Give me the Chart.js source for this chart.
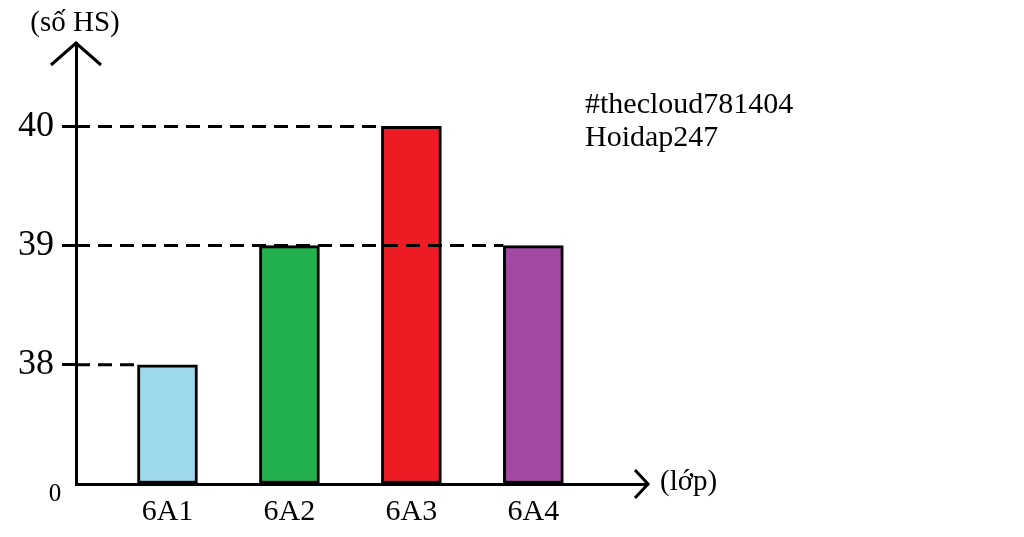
<!DOCTYPE html>
<html>
<head>
<meta charset="utf-8">
<script src="https://cdn.jsdelivr.net/npm/chart.js@4.4.1/dist/chart.umd.min.js"></script>
<style>
  html, body { margin: 0; padding: 0; background: #fff; }
  #wrap { width: 1024px; height: 537px; position: relative; }
</style>
</head>
<body>
<div id="wrap"><canvas id="c"></canvas></div>
<script>
// --- data ---
const CLASSES = ['6A1', '6A2', '6A3', '6A4'];
const STUDENTS = [38, 39, 40, 39];
const BAR_COLORS = ['#9dd9ea', '#22b14c', '#ed1c24', '#a349a4'];
// broken axis: the baseline labelled "0" sits one step below 38
const Y_TICK_VALUES = [37, 38, 39, 40];
const Y_TICK_LABELS = ['0', '38', '39', '40'];
const Y_TITLE = '(số HS)';
const X_TITLE = '(lớp)';
const NOTE_LINES = ['#thecloud781404', 'Hoidap247'];

const SERIF = "'Liberation Serif', 'Times New Roman', serif";
const BASE = Y_TICK_VALUES[0];

// arrows, guide lines, titles
const sketchPlugin = {
    id: 'sketch',
    afterDatasetsDraw(chart) {
        const { ctx, chartArea: a, scales } = chart;
        const y = scales.y;
        const meta = chart.getDatasetMeta(0);
        ctx.save();
        ctx.strokeStyle = '#000';
        ctx.lineWidth = 3;

        // dashed guides from the y axis to the bars
        ctx.setLineDash([14, 8]);
        const seen = {};
        STUDENTS.forEach((v, i) => {
            const bar = meta.data[i];
            const left = bar.x - bar.width / 2;
            if (!seen[v] || left > seen[v]) seen[v] = left;
        });
        Object.keys(seen).forEach(v => {
            const py = y.getPixelForValue(+v);
            ctx.beginPath();
            ctx.moveTo(a.left, py);
            ctx.lineTo(seen[v], py);
            ctx.stroke();
        });
        ctx.setLineDash([]);

        // arrow heads
        ctx.beginPath();
        ctx.moveTo(a.left - 25, a.top + 22);
        ctx.lineTo(a.left, a.top);
        ctx.lineTo(a.left + 25, a.top + 22);
        ctx.stroke();
        ctx.beginPath();
        ctx.moveTo(a.right - 13, a.bottom - 14);
        ctx.lineTo(a.right, a.bottom);
        ctx.lineTo(a.right - 13, a.bottom + 14);
        ctx.stroke();

        // labels
        ctx.fillStyle = '#000';
        ctx.textBaseline = 'middle';
        ctx.font = '29px ' + SERIF;
        ctx.textAlign = 'center';
        ctx.fillText(Y_TITLE, a.left - 1, 23);
        ctx.textAlign = 'left';
        ctx.fillText(X_TITLE, a.right + 12, a.bottom - 2);
        ctx.font = '30px ' + SERIF;
        ctx.fillText(NOTE_LINES[0], 585, 105);
        ctx.fillText(NOTE_LINES[1], 585, 138);

        // the "0" at the origin
        ctx.font = '25px ' + SERIF;
        ctx.textAlign = 'center';
        ctx.fillText(Y_TICK_LABELS[0], a.left - 21, a.bottom + 10);
        ctx.restore();
    }
};

new Chart(document.getElementById('c'), {
    type: 'bar',
    data: {
        datasets: [{
            data: STUDENTS.map((v, i) => ({ x: i, y: v })),
            base: BASE,
            backgroundColor: BAR_COLORS,
            borderColor: '#000',
            borderWidth: 3,
            borderSkipped: false,
            barThickness: 60
        }]
    },
    options: {
        responsive: true,
        maintainAspectRatio: false,
        animation: false,
        events: [],
        layout: { padding: { top: 43, right: 376, left: 0, bottom: 0 } },
        plugins: { legend: { display: false }, tooltip: { enabled: false } },
        scales: {
            x: {
                type: 'linear',
                offset: false,
                min: -0.75,
                max: 3.94,
                afterBuildTicks: s => { s.ticks = CLASSES.map((c, i) => ({ value: i })); },
                afterFit: s => { s.height = 53; },
                grid: { display: false, drawTicks: false },
                border: { display: true, color: '#000', width: 3 },
                ticks: {
                    padding: 10,
                    color: '#000',
                    font: { family: SERIF, size: 30 },
                    callback: v => CLASSES[v]
                }
            },
            y: {
                min: BASE,
                max: 40.7,
                afterBuildTicks: s => { s.ticks = Y_TICK_VALUES.map(v => ({ value: v })); },
                afterFit: s => { s.width = 76; },
                grid: {
                    drawOnChartArea: false,
                    drawTicks: true,
                    tickLength: 14,
                    tickWidth: 3,
                    tickColor: c => (c.tick && c.tick.value === BASE) ? 'rgba(0,0,0,0)' : '#000'
                },
                border: { display: true, color: '#000', width: 3 },
                ticks: {
                    padding: 8,
                    color: '#000',
                    font: { family: SERIF, size: 36 },
                    callback: v => v === BASE ? '' : Y_TICK_LABELS[Y_TICK_VALUES.indexOf(v)]
                }
            }
        }
    },
    plugins: [sketchPlugin]
});
</script>
</body>
</html>
